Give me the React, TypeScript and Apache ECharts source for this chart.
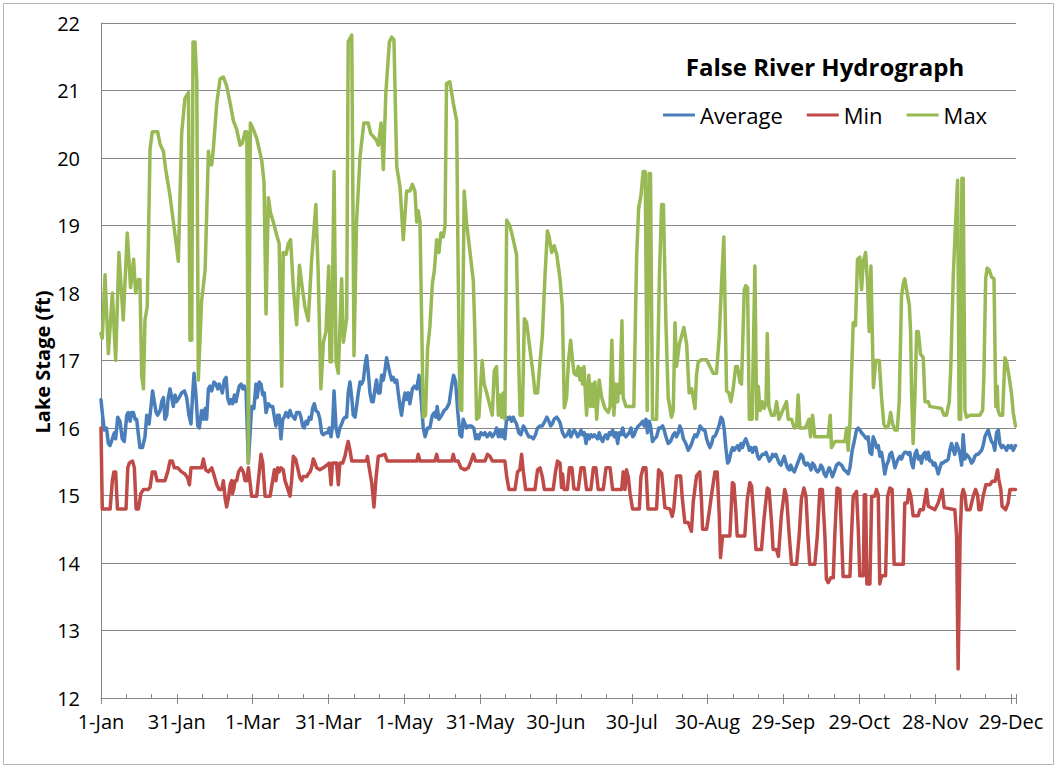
import React, { useEffect, useRef } from "react";
import * as echarts from "echarts";

const xTickLabels = ["1-Jan", "31-Jan", "1-Mar", "31-Mar", "1-May", "31-May", "30-Jun", "30-Jul", "30-Aug", "29-Sep", "29-Oct", "28-Nov", "29-Dec"];
const yTicks = { min: 12, max: 22, step: 1 };
const seriesNames = ["Average", "Min", "Max"];

// [day of year, lake stage (ft)]
const averageStage: [number, number][] = [
  [0,16.42],[0.5,16.23],[1.3,15.97],[2.2,16.0],[2.9,15.77],[3.6,15.74],[4.5,15.84],[5.3,15.93],[5.8,15.84],[6.6,16.16],[7.5,16.1],[8.4,15.84],[9.2,15.8],[10.2,16.19],[10.8,16.23],[11.5,16.1],[12.1,16.23],[12.8,16.23],[13.5,16.13],[14.1,16.13],[14.8,15.9],[15.4,15.71],[16.4,15.71],[17.4,15.87],[18.1,16.19],[19.0,16.06],[19.8,16.32],[20.4,16.55],[21.1,16.39],[21.8,16.23],[22.4,16.19],[23.4,16.26],[24.0,16.39],[24.7,16.45],[25.3,16.13],[26.0,16.19],[26.6,16.45],[27.3,16.58],[28.0,16.45],[28.6,16.32],[29.3,16.49],[29.9,16.39],[30.9,16.45],[31.9,16.52],[33.0,16.55],[33.9,16.45],[34.8,16.19],[35.6,16.06],[36.3,16.52],[36.8,16.81],[37.5,16.52],[38.3,16.03],[38.9,16.0],[39.8,16.26],[40.5,16.13],[41.2,16.29],[41.8,16.13],[42.5,16.58],[43.1,16.62],[43.8,16.55],[44.7,16.68],[45.5,16.65],[46.2,16.58],[46.8,16.65],[47.5,16.58],[48.0,16.52],[48.8,16.71],[49.5,16.75],[50.1,16.45],[50.8,16.36],[51.5,16.42],[52.1,16.36],[52.8,16.49],[53.4,16.39],[54.1,16.52],[54.7,16.62],[55.4,16.65],[56.1,16.58],[56.7,16.62],[57.4,16.55],[58.3,15.48],[59.6,16.32],[60.5,16.29],[61.3,16.65],[61.8,16.45],[62.6,16.68],[63.3,16.65],[64.0,16.49],[64.6,16.52],[65.3,16.23],[66.2,16.36],[67.1,16.32],[67.9,16.32],[68.6,16.16],[69.2,16.03],[69.9,16.19],[70.5,16.19],[71.2,15.84],[71.9,16.13],[72.5,16.16],[73.2,16.23],[74.1,16.16],[74.8,16.26],[75.4,16.19],[76.1,16.16],[76.7,16.13],[77.4,16.23],[78.5,16.23],[79.1,16.16],[79.8,16.03],[80.4,16.0],[81.1,16.1],[81.7,16.06],[82.4,16.16],[83.1,16.13],[83.7,16.29],[84.4,16.36],[85.0,16.26],[85.9,16.23],[86.6,16.13],[87.3,15.93],[87.9,15.9],[89.0,15.93],[89.7,15.93],[90.3,16.0],[91.0,15.87],[91.6,16.03],[92.2,16.55],[93.0,16.0],[93.7,15.87],[94.5,16.0],[95.2,16.06],[95.9,16.13],[96.5,16.16],[97.2,16.16],[97.8,16.52],[98.5,16.68],[99.2,16.45],[99.8,16.19],[100.5,16.16],[101.1,16.32],[101.8,16.52],[102.5,16.68],[103.1,16.65],[103.8,16.71],[104.4,16.91],[105.1,17.07],[105.7,16.84],[106.4,16.52],[107.1,16.39],[107.7,16.39],[108.4,16.58],[109.0,16.71],[109.7,16.52],[110.4,16.52],[111.0,16.78],[111.7,16.71],[112.3,16.84],[113.0,17.04],[113.7,16.91],[114.3,16.81],[115.0,16.71],[115.6,16.75],[116.3,16.68],[117.0,16.71],[117.6,16.52],[118.3,16.32],[118.9,16.19],[119.6,16.39],[120.3,16.52],[120.9,16.42],[121.6,16.52],[122.2,16.36],[123.2,16.58],[124.0,16.62],[124.9,16.58],[125.8,16.78],[126.6,16.45],[127.5,16.0],[128.2,15.87],[129.2,16.0],[130.1,16.0],[131.1,16.19],[131.9,16.23],[132.5,16.16],[133.0,16.32],[133.7,16.13],[134.8,16.19],[135.8,16.26],[136.7,16.29],[137.7,16.36],[138.7,16.62],[139.5,16.78],[140.3,16.68],[141.1,16.26],[142.0,15.9],[142.7,15.87],[143.3,16.13],[144.0,16.06],[144.6,16.0],[145.3,16.03],[146.6,16.03],[147.5,16.0],[148.2,15.84],[148.9,15.9],[149.5,15.84],[150.3,15.93],[151.2,15.9],[151.9,15.93],[152.8,15.87],[153.9,15.93],[154.8,15.87],[155.9,15.93],[156.5,16.0],[157.2,15.87],[157.8,15.97],[158.5,15.87],[159.1,15.97],[159.8,15.84],[160.5,16.16],[161.1,16.13],[161.8,16.16],[162.4,16.1],[163.1,16.16],[163.8,16.1],[164.4,16.06],[165.3,15.93],[166.1,15.9],[167.1,16.03],[167.7,16.0],[168.4,15.93],[169.3,15.87],[170.1,15.87],[171.0,15.84],[171.9,15.9],[172.7,16.0],[173.7,16.03],[174.6,16.03],[175.6,16.1],[176.4,16.16],[177.2,16.1],[177.9,16.03],[178.5,16.06],[179.3,16.13],[180.3,16.16],[180.9,16.13],[181.6,16.08],[182.6,15.93],[183.5,15.87],[184.5,15.9],[185.3,15.97],[185.9,15.87],[186.6,15.93],[187.2,15.97],[187.9,15.93],[188.6,15.87],[189.2,15.9],[189.9,15.97],[190.5,15.9],[191.2,15.93],[191.9,15.77],[192.5,15.9],[193.2,15.84],[193.8,15.9],[194.5,15.87],[195.2,15.9],[195.8,15.87],[196.5,15.84],[197.1,15.93],[197.8,15.84],[198.5,15.8],[199.1,15.87],[199.8,15.9],[200.4,15.84],[201.1,15.93],[201.7,15.9],[202.4,15.97],[203.1,15.87],[203.7,15.93],[204.4,15.77],[205.0,15.93],[205.7,15.9],[206.4,16.0],[207.0,15.9],[207.7,15.87],[208.3,15.9],[209.0,15.93],[209.7,16.0],[210.3,15.87],[211.0,15.9],[211.6,15.97],[212.6,16.03],[213.5,16.06],[214.3,16.1],[214.9,16.03],[215.6,16.13],[216.2,15.93],[216.9,16.1],[217.4,16.03],[218.2,15.8],[218.9,15.84],[219.8,15.87],[220.7,16.0],[221.5,16.0],[222.2,16.03],[222.8,15.97],[223.5,15.87],[224.4,15.77],[225.3,15.8],[226.4,15.9],[227.1,15.93],[227.7,15.87],[228.4,15.93],[229.0,16.03],[229.7,15.97],[230.4,15.84],[231.0,15.8],[231.7,15.74],[232.3,15.67],[233.0,15.71],[233.7,15.77],[234.3,15.84],[235.0,15.9],[235.6,15.87],[236.3,15.93],[237.0,16.03],[237.6,16.0],[238.3,15.97],[238.9,15.97],[239.6,15.84],[240.2,15.77],[240.9,15.71],[241.6,15.77],[242.2,15.87],[242.9,15.88],[243.5,15.93],[244.5,16.03],[245.3,16.16],[245.9,16.13],[246.6,15.97],[247.2,15.71],[247.9,15.48],[248.5,15.51],[249.2,15.64],[249.9,15.71],[250.5,15.67],[251.2,15.71],[251.9,15.74],[252.5,15.67],[253.2,15.77],[253.8,15.71],[254.5,15.8],[255.1,15.84],[255.8,15.77],[256.5,15.67],[257.1,15.71],[257.8,15.64],[258.4,15.71],[259.1,15.71],[259.8,15.58],[260.4,15.54],[261.1,15.58],[261.7,15.61],[262.4,15.61],[263.1,15.64],[263.7,15.58],[264.4,15.51],[265.0,15.54],[265.7,15.61],[266.3,15.58],[267.0,15.61],[267.7,15.54],[268.3,15.48],[269.0,15.45],[269.6,15.51],[270.3,15.58],[271.0,15.48],[271.6,15.41],[272.3,15.38],[272.9,15.45],[273.6,15.38],[274.3,15.35],[274.9,15.41],[275.6,15.48],[276.2,15.54],[276.9,15.61],[277.6,15.58],[278.2,15.48],[278.9,15.45],[279.5,15.48],[280.2,15.45],[280.9,15.38],[281.5,15.48],[282.2,15.45],[282.8,15.38],[283.5,15.35],[284.2,15.38],[284.8,15.45],[285.5,15.41],[286.1,15.32],[286.8,15.28],[287.4,15.35],[288.1,15.41],[288.8,15.35],[289.4,15.28],[290.1,15.35],[291.0,15.45],[291.9,15.48],[293.0,15.45],[294.0,15.38],[295.0,15.35],[295.6,15.32],[296.3,15.41],[297.2,15.67],[298.0,15.8],[298.9,15.97],[299.6,16.0],[300.2,15.97],[300.9,15.93],[301.6,15.9],[302.2,15.87],[302.9,15.84],[303.5,15.87],[304.2,15.64],[304.9,15.61],[305.5,15.87],[306.2,15.8],[306.8,15.71],[307.5,15.74],[308.2,15.58],[308.8,15.64],[309.5,15.48],[310.1,15.32],[310.8,15.45],[311.5,15.51],[312.1,15.61],[312.8,15.64],[313.4,15.54],[314.1,15.41],[314.7,15.48],[315.4,15.54],[316.1,15.58],[316.7,15.54],[317.4,15.61],[318.0,15.64],[318.7,15.64],[319.4,15.61],[320.0,15.64],[320.7,15.48],[321.3,15.41],[322.0,15.61],[322.7,15.67],[323.3,15.54],[324.0,15.58],[324.6,15.48],[325.3,15.61],[326.0,15.64],[326.6,15.54],[327.3,15.64],[327.9,15.51],[328.6,15.51],[329.3,15.45],[329.9,15.48],[330.6,15.41],[331.2,15.32],[331.9,15.41],[332.5,15.48],[333.2,15.48],[333.9,15.51],[334.5,15.51],[335.2,15.54],[335.8,15.67],[336.5,15.77],[337.2,15.67],[337.8,15.61],[338.5,15.77],[339.1,15.71],[339.8,15.61],[340.5,15.45],[341.1,15.9],[341.8,15.54],[342.4,15.61],[343.1,15.58],[343.8,15.54],[344.4,15.48],[345.1,15.51],[345.7,15.58],[346.4,15.61],[347.1,15.61],[347.7,15.64],[348.4,15.67],[349.0,15.74],[349.7,15.87],[350.4,15.93],[351.0,15.97],[351.7,15.87],[352.3,15.8],[353.0,15.77],[353.6,15.67],[354.3,15.93],[355.0,15.97],[355.6,15.77],[356.3,15.71],[356.9,15.74],[357.6,15.71],[358.3,15.67],[358.9,15.74],[359.6,15.71],[360.2,15.74],[360.9,15.67],[361.8,15.74]
];

const minStage: [number, number][] = [
  [0,16.0],[0.5,14.8],[3.6,14.8],[4.5,15.22],[5.1,15.35],[5.8,15.35],[6.5,14.8],[9.9,14.8],[10.6,15.41],[11.2,15.48],[12.5,15.51],[13.2,15.41],[13.9,14.8],[14.8,14.8],[15.8,15.03],[16.8,15.09],[18.7,15.09],[19.4,15.12],[20.3,15.35],[21.4,15.35],[22.2,15.22],[25.3,15.22],[26.4,15.35],[27.3,15.51],[28.2,15.51],[29.0,15.41],[30.3,15.41],[31.9,15.35],[33.2,15.32],[34.3,15.26],[35.0,15.16],[35.6,15.41],[39.8,15.41],[40.5,15.54],[41.4,15.38],[42.5,15.35],[43.8,15.41],[44.9,15.28],[45.8,15.16],[46.7,15.09],[47.8,15.09],[48.4,15.22],[49.1,14.96],[49.7,14.83],[50.4,14.96],[51.1,15.16],[51.7,15.22],[52.0,15.03],[52.5,15.09],[53.0,15.22],[53.7,15.22],[54.4,15.35],[55.4,15.41],[56.3,15.35],[57.0,15.22],[57.7,15.22],[58.3,15.41],[59.6,14.99],[61.6,14.99],[62.6,15.35],[63.3,15.61],[64.0,15.48],[64.9,14.99],[66.9,14.99],[67.9,15.22],[68.6,15.38],[69.2,15.22],[69.9,15.41],[70.5,15.35],[71.2,15.41],[72.1,15.38],[72.8,15.22],[73.7,15.12],[74.8,14.99],[75.4,15.22],[76.1,15.58],[77.0,15.54],[77.8,15.41],[78.7,15.26],[79.4,15.22],[80.0,15.28],[81.4,15.28],[82.0,15.32],[82.7,15.35],[83.3,15.41],[84.0,15.54],[84.7,15.48],[85.3,15.41],[86.6,15.38],[87.9,15.41],[89.3,15.45],[90.3,15.48],[91.0,15.16],[91.6,15.48],[93.2,15.48],[93.9,15.16],[94.5,15.48],[95.6,15.48],[96.5,15.58],[97.2,15.71],[97.8,15.8],[98.5,15.67],[99.2,15.51],[105.0,15.51],[105.4,15.58],[106.1,15.41],[107.1,15.19],[108.0,14.83],[108.8,15.26],[109.7,15.58],[112.3,15.61],[113.3,15.51],[125.0,15.51],[125.5,15.61],[126.2,15.51],[132.1,15.51],[132.8,15.61],[133.4,15.51],[138.7,15.51],[139.4,15.61],[140.0,15.51],[141.3,15.51],[142.4,15.41],[144.0,15.38],[145.3,15.41],[146.4,15.51],[147.3,15.61],[148.2,15.51],[151.9,15.51],[152.9,15.61],[153.9,15.58],[154.8,15.51],[159.8,15.51],[160.5,15.28],[161.4,15.09],[163.8,15.09],[164.8,15.35],[165.7,15.38],[166.4,15.61],[167.1,15.35],[168.0,15.09],[171.7,15.09],[172.7,15.38],[173.7,15.41],[174.6,15.28],[175.4,15.09],[178.9,15.09],[179.8,15.35],[180.6,15.51],[181.6,15.48],[182.2,15.12],[182.6,15.32],[183.2,15.09],[184.5,15.09],[185.3,15.41],[186.3,15.41],[187.1,15.1],[188.8,15.09],[189.9,15.41],[191.1,15.41],[192.1,15.09],[193.8,15.09],[194.8,15.41],[195.8,15.41],[196.7,15.09],[198.7,15.09],[199.8,15.41],[201.4,15.41],[202.4,15.09],[206.0,15.09],[206.6,15.35],[207.3,15.09],[207.9,15.38],[208.6,15.28],[209.3,15.03],[210.3,14.8],[213.0,14.8],[213.6,15.28],[214.5,15.41],[215.6,15.41],[216.4,14.8],[219.8,14.8],[220.6,15.38],[221.8,15.33],[222.4,15.1],[223.1,14.82],[225.1,14.8],[226.0,14.69],[226.6,14.8],[227.7,15.29],[229.3,15.29],[230.0,14.95],[231.0,14.6],[232.3,14.6],[233.6,14.47],[234.3,14.9],[235.6,15.29],[236.9,15.35],[237.6,14.9],[238.0,14.5],[239.6,14.5],[240.6,14.75],[241.5,15.0],[242.9,15.35],[243.8,15.35],[244.6,14.7],[245.1,14.08],[245.9,14.4],[248.8,14.4],[249.8,15.19],[250.4,15.17],[251.2,14.75],[251.7,14.4],[254.7,14.4],[255.7,14.95],[256.7,15.19],[257.4,15.14],[258.3,14.66],[259.1,14.2],[261.3,14.2],[262.3,14.65],[263.6,15.11],[264.3,15.09],[265.3,14.6],[265.9,14.2],[267.2,14.2],[268.0,14.1],[269.2,14.72],[270.5,15.09],[271.2,14.99],[272.3,14.4],[273.2,13.98],[275.2,13.98],[276.2,14.4],[277.1,14.95],[278.1,15.11],[278.9,14.99],[279.7,14.4],[280.4,13.98],[282.4,13.98],[283.4,14.4],[284.4,15.09],[285.4,15.09],[286.4,14.4],[287.0,13.76],[287.7,13.71],[288.7,13.78],[289.7,13.78],[290.3,14.4],[291.2,15.11],[292.3,15.09],[293.0,14.4],[293.6,13.8],[296.3,13.8],[296.9,14.4],[297.6,14.99],[298.9,15.06],[299.6,14.5],[300.2,13.81],[301.6,13.81],[302.0,15.01],[302.5,15.01],[303.0,13.69],[304.2,13.69],[304.9,14.99],[306.1,14.99],[306.8,15.09],[307.5,15.01],[308.1,13.69],[308.8,13.81],[310.4,13.81],[311.2,14.99],[312.1,15.11],[313.0,15.09],[313.8,13.98],[317.4,13.98],[318.0,14.89],[319.0,14.89],[319.6,15.09],[320.4,14.99],[321.3,14.7],[323.3,14.7],[324.0,14.79],[325.3,14.79],[326.6,15.09],[327.3,14.84],[329.9,14.79],[331.2,14.89],[332.8,15.09],[333.6,14.82],[337.8,14.79],[338.5,14.4],[339.1,12.43],[339.9,14.4],[340.5,14.99],[341.1,15.09],[341.8,15.01],[342.4,14.79],[343.8,14.79],[345.1,14.99],[346.0,15.09],[346.8,15.01],[347.3,14.79],[348.1,14.79],[349.0,14.99],[350.1,15.16],[351.7,15.16],[352.6,15.21],[353.7,15.21],[354.7,15.38],[355.2,15.24],[356.0,15.09],[356.5,14.84],[357.9,14.79],[358.9,14.89],[359.6,15.09],[361.8,15.09]
];

const maxStage: [number, number][] = [
  [0,17.4],[0.5,17.33],[1.6,18.27],[2.9,17.1],[4.5,18.0],[5.8,17.0],[7.1,18.6],[8.8,17.6],[10.4,18.89],[11.7,18.08],[12.9,18.5],[13.7,18.0],[14.8,18.2],[15.4,18.2],[16.1,16.78],[16.8,16.58],[17.4,17.6],[18.3,17.8],[19.4,20.13],[20.3,20.39],[22.4,20.39],[23.4,20.2],[24.7,20.1],[25.6,19.83],[27.3,19.44],[29.3,18.86],[30.6,18.47],[31.9,20.36],[33.2,20.88],[34.6,20.97],[35.2,17.3],[35.9,17.3],[36.4,21.72],[37.2,21.72],[37.9,21.13],[38.5,16.71],[39.8,17.88],[41.2,18.34],[42.5,20.1],[43.1,19.9],[43.8,19.9],[44.5,20.16],[45.8,20.81],[47.1,21.17],[48.4,21.2],[49.7,21.07],[51.1,20.81],[52.4,20.55],[53.7,20.42],[55.0,20.19],[55.9,20.22],[57.0,20.39],[57.7,20.39],[58.3,15.48],[59.1,20.52],[60.3,20.42],[61.6,20.29],[63.6,19.96],[64.5,19.64],[65.3,17.69],[66.2,19.41],[67.1,19.18],[68.2,19.05],[69.5,18.86],[70.5,18.73],[71.5,16.62],[72.1,18.6],[73.2,18.57],[74.1,18.73],[75.0,18.79],[76.1,18.08],[77.4,17.53],[78.5,18.41],[79.4,18.14],[80.7,17.79],[82.0,17.59],[83.3,18.47],[85.0,19.31],[85.9,18.34],[87.0,16.58],[88.0,17.27],[89.0,17.43],[90.1,18.4],[90.6,16.98],[91.2,16.98],[92.2,19.8],[93.0,16.98],[93.9,16.81],[95.2,18.21],[95.9,17.27],[97.2,17.62],[97.8,21.72],[99.2,21.82],[100.1,17.07],[101.1,19.05],[102.5,20.03],[104.0,20.52],[105.7,20.52],[106.7,20.36],[107.7,20.32],[109.0,20.26],[109.7,20.19],[110.8,20.52],[111.7,19.83],[112.7,20.97],[114.1,21.72],[115.0,21.79],[115.9,21.75],[117.0,19.87],[118.3,19.57],[119.6,18.79],[120.9,19.51],[122.2,19.51],[123.2,19.61],[124.2,19.51],[124.9,19.05],[125.5,19.22],[126.2,19.05],[127.5,16.16],[128.4,16.19],[129.2,17.17],[130.1,17.49],[131.1,18.14],[131.9,18.34],[132.8,18.79],[133.7,18.6],[134.5,18.89],[135.4,18.83],[136.1,18.99],[136.7,21.1],[138.0,21.13],[139.4,20.81],[140.7,20.55],[141.3,18.34],[142.0,16.29],[142.7,16.26],[143.7,19.51],[144.6,19.05],[146.0,18.6],[147.3,18.18],[147.9,17.43],[148.6,16.13],[149.5,16.16],[150.8,17.0],[151.6,16.65],[152.6,16.52],[153.9,16.32],[154.8,16.19],[155.6,16.85],[156.5,16.91],[157.2,16.19],[157.8,16.49],[158.5,16.16],[159.1,16.52],[159.8,16.13],[160.5,19.08],[161.8,18.99],[163.1,18.79],[164.4,18.57],[165.3,16.91],[165.8,16.19],[166.7,16.19],[167.5,17.62],[168.4,17.56],[169.7,17.17],[171.0,16.78],[171.7,16.52],[172.7,16.52],[173.7,16.98],[174.6,17.36],[175.6,18.21],[176.6,18.92],[177.3,18.83],[178.3,18.6],[179.3,18.7],[180.3,18.57],[181.6,18.21],[182.5,17.8],[183.3,16.3],[184.2,16.45],[184.9,16.98],[185.8,17.3],[186.6,16.98],[187.2,16.81],[188.2,16.78],[188.8,16.91],[189.5,16.71],[189.9,16.88],[190.5,16.65],[191.1,16.91],[192.1,16.19],[193.0,16.78],[193.7,16.32],[194.4,16.65],[194.8,16.32],[195.4,16.68],[196.1,16.13],[197.1,16.71],[198.1,16.45],[199.4,16.29],[200.7,16.23],[201.4,16.32],[202.1,17.3],[202.9,16.19],[203.7,16.65],[204.4,16.39],[204.8,16.65],[205.3,16.52],[206.1,17.59],[206.6,16.45],[207.7,16.32],[210.8,16.32],[211.9,18.53],[212.7,19.25],[213.6,19.44],[214.5,19.8],[215.3,19.8],[216.1,16.26],[216.8,19.77],[217.4,19.77],[218.2,16.13],[219.8,16.13],[220.9,18.21],[221.8,19.31],[222.5,19.31],[223.5,17.56],[224.4,16.45],[225.7,16.16],[226.4,16.26],[227.1,17.56],[227.7,16.91],[228.8,17.24],[229.7,17.36],[230.6,17.49],[231.7,17.24],[232.7,16.52],[233.7,16.58],[234.3,16.45],[235.0,16.29],[235.6,16.78],[236.3,16.98],[237.6,17.01],[239.6,17.01],[240.9,16.91],[242.2,16.81],[243.5,16.81],[244.6,17.36],[245.5,18.14],[246.4,18.83],[247.5,16.55],[248.4,16.52],[249.2,16.39],[250.1,16.58],[251.1,16.91],[251.8,16.91],[252.8,16.68],[253.4,16.65],[254.5,18.05],[255.1,18.11],[255.8,18.08],[256.5,16.13],[257.6,16.13],[258.7,18.4],[259.4,16.13],[260.0,16.62],[260.8,16.26],[261.6,16.39],[262.4,16.29],[263.1,16.39],[263.6,17.4],[264.2,16.32],[265.3,16.19],[266.4,16.19],[267.3,16.39],[268.2,16.13],[271.2,16.39],[271.9,16.13],[273.2,16.13],[274.3,16.0],[275.2,16.03],[275.8,16.49],[276.5,16.0],[278.7,16.0],[280.1,16.13],[280.7,15.87],[281.5,16.19],[282.4,15.87],[287.7,15.87],[288.5,16.19],[289.0,15.71],[290.4,15.8],[294.3,15.8],[295.0,16.0],[295.6,15.67],[296.3,16.07],[297.6,17.56],[298.5,17.52],[299.3,18.5],[300.2,18.53],[300.9,18.05],[301.6,18.47],[302.5,18.6],[303.3,18.11],[303.9,17.43],[304.6,18.4],[305.6,16.6],[306.5,17.0],[307.9,17.0],[308.8,16.45],[309.7,16.06],[310.5,16.0],[311.5,16.03],[312.4,16.23],[313.2,16.06],[314.1,15.97],[315.0,15.97],[315.8,16.39],[316.7,17.95],[317.4,18.14],[318.0,18.21],[318.7,18.05],[319.8,17.82],[320.3,17.43],[320.7,16.52],[321.3,15.77],[322.0,16.45],[322.7,17.43],[323.3,17.43],[323.7,17.3],[324.2,17.1],[325.3,17.04],[326.0,16.39],[327.3,16.39],[327.9,16.32],[332.5,16.29],[333.5,16.19],[334.5,16.19],[335.6,16.39],[336.2,16.91],[337.2,18.27],[338.2,19.12],[338.9,19.67],[339.5,16.13],[340.1,16.13],[340.6,19.7],[341.1,19.7],[341.8,16.26],[342.4,16.16],[343.8,16.19],[345.7,16.19],[347.7,16.19],[348.8,16.26],[349.3,16.78],[350.0,18.21],[350.6,18.37],[351.4,18.34],[352.3,18.24],[353.3,18.21],[354.0,16.32],[354.6,16.62],[354.9,16.26],[355.6,16.19],[356.7,16.19],[357.6,17.04],[358.3,16.98],[359.3,16.75],[360.2,16.52],[360.9,16.23],[361.8,16.03]
];

const colors = ["#4a7ebb", "#be4b48", "#98b954"];
const FONT = "'Open Sans', sans-serif";

export default function App() {
  const ref = useRef<HTMLDivElement>(null);
  useEffect(() => {
    if (!ref.current) return;
    const chart = echarts.init(ref.current, null, { renderer: "svg" });
    const lineSeries = (name: string, data: [number, number][], color: string) => ({
      name,
      type: "line",
      data,
      xAxisIndex: 0,
      yAxisIndex: 0,
      showSymbol: false,
      symbol: "none",
      smooth: false,
      lineStyle: { color, width: 3.5, join: "round", cap: "round" },
      itemStyle: { color },
      emphasis: { disabled: true },
    });
    chart.setOption({
      animation: false,
      backgroundColor: "#ffffff",
      textStyle: { fontFamily: FONT },
      grid: { left: 101, right: 42, top: 23, bottom: 71, containLabel: false },
      legend: {
        data: seriesNames,
        left: 658,
        top: 99,
        itemWidth: 32,
        itemHeight: 3,
        itemGap: 24,
        icon: "rect",
        textStyle: { fontFamily: FONT, fontSize: 22, color: "#000" },
      },
      xAxis: [
        {
          type: "value",
          min: 0,
          max: 362,
          interval: 30,
          position: "bottom",
          axisLine: { show: true, lineStyle: { color: "#868686", width: 1 } },
          axisTick: { show: true, inside: false, length: 6, lineStyle: { color: "#868686" } },
          axisLabel: {
            show: true,
            margin: 13,
            fontFamily: FONT,
            fontSize: 20,
            color: "#000",
            showMinLabel: true,
            showMaxLabel: true,
            formatter: (v: number) => (v % 30 === 0 ? xTickLabels[v / 30] ?? "" : ""),
          },
          splitLine: { show: false },
        },
        {
          type: "value",
          min: 0,
          max: 362,
          interval: 10,
          position: "bottom",
          axisLine: { show: false },
          axisTick: { show: true, inside: true, length: 4, lineStyle: { color: "#868686" } },
          axisLabel: { show: false },
          splitLine: { show: false },
        },
      ],
      yAxis: {
        type: "value",
        min: yTicks.min,
        max: yTicks.max,
        interval: yTicks.step,
        axisLine: { show: true, lineStyle: { color: "#868686", width: 1 } },
        axisTick: { show: false },
        axisLabel: { margin: 21, fontFamily: FONT, fontSize: 20, color: "#000" },
        splitLine: { show: true, lineStyle: { color: "#878787", width: 1 } },
      },
      graphic: [
        {
          type: "rect",
          shape: { x: 3.5, y: 3.5, width: 1050, height: 761 },
          style: { fill: "none", stroke: "#b5b5b5", lineWidth: 1 },
          silent: true,
          z: -10,
        },
        {
          type: "text",
          x: 825,
          y: 66,
          style: {
            text: "False River Hydrograph",
            fontFamily: FONT,
            fontWeight: "bold",
            fontSize: 24,
            fill: "#000",
            textAlign: "center",
            textVerticalAlign: "middle",
          },
        },
        {
          type: "text",
          x: 42,
          y: 362,
          rotation: Math.PI / 2,
          style: {
            text: "Lake Stage (ft)",
            fontFamily: FONT,
            fontWeight: "bold",
            fontSize: 20,
            fill: "#000",
            textAlign: "center",
            textVerticalAlign: "middle",
          },
        },
      ],
      series: [
        lineSeries(seriesNames[0], averageStage, colors[0]),
        lineSeries(seriesNames[1], minStage, colors[1]),
        lineSeries(seriesNames[2], maxStage, colors[2]),
      ],
    });
    return () => chart.dispose();
  }, []);
  return (
    <div
      ref={ref}
      style={{ position: "absolute", left: 0, top: 0, width: 1058, height: 769, background: "#fff" }}
    />
  );
}
